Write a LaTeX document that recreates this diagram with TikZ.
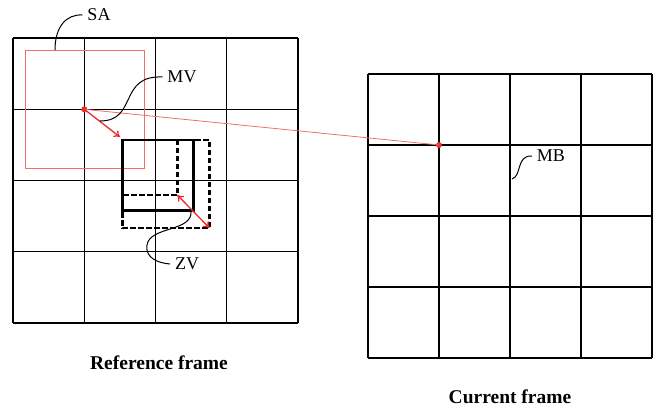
\documentclass[tikz,border=0pt]{standalone}
\usepackage{fontspec}
\setmainfont{Liberation Serif}
\usetikzlibrary{arrows.meta}
\definecolor{mvred}{RGB}{235,45,40}
\definecolor{lightred}{RGB}{240,110,105}
\tikzset{
  gridline/.style={line width=1.1pt, black},
  blockline/.style={line width=2.8pt, black},
  dashblock/.style={line width=2.8pt, black, dash pattern=on 5.5pt off 2.5pt},
  leader/.style={line width=1pt, black},
  lbl/.style={font=\fontsize{18}{20}\selectfont, inner sep=0pt, outer sep=5pt},
  caption/.style={font=\fontsize{19.5}{22}\selectfont\bfseries, inner sep=1pt},
  vec/.style={mvred, line width=1.3pt},
  reddot/.style={circle, fill=mvred, inner sep=0pt, minimum size=6pt},
}
\begin{document}
\begin{tikzpicture}[x=1pt,y=-1pt]
\useasboundingbox (0,0) rectangle (657,408);
% left grid (reference frame)
\foreach \i in {0,...,4}{
  \draw[gridline] ({13+71.25*\i},38) -- ({13+71.25*\i},323);
  \draw[gridline] (13,{38+71.25*\i}) -- (298,{38+71.25*\i});
}
% right grid (current frame)
\foreach \i in {0,...,4}{
  \draw[gridline] ({368+71*\i},74) -- ({368+71*\i},358);
  \draw[gridline] (368,{74+71*\i}) -- (652,{74+71*\i});
}
% search area
\draw[lightred, line width=0.9pt] (25,50) rectangle (144,168);
% reference blocks
\draw[dashblock] (122.3,140) rectangle (177.3,195);
\draw[dashblock] (122.3,140) rectangle (209.5,228);
\draw[blockline] (122.3,140) rectangle (193.3,210.8);
% current block
\draw[blockline] (439,145) rectangle (510,216);
% points
\coordinate (mvtip) at (120,137);
\coordinate (zva) at (177.3,195);
\coordinate (zvb) at (209.5,228);
\node[reddot] (p1) at (84.3,109.3) {};
\node[reddot] (p2) at (439,145) {};
\draw[lightred, line width=0.8pt] (p1.center) -- (p2.center);
\draw[vec, -{To[length=6pt,width=8pt]}] (p1.center) -- (mvtip);
\draw[vec, {To[length=6pt,width=8pt]}-{To[length=6pt,width=8pt]}] (zva) -- (zvb);
% labels
\node[lbl] (sa) at (99,15) {SA};
\node[lbl] (mv) at (182,77) {MV};
\node[lbl] (mb) at (551,156) {MB};
\node[lbl] (zv) at (187,264) {ZV};
\coordinate (saf) at (55,50);
\coordinate (mvf) at (100,121);
\coordinate (mbf) at (512,179);
\coordinate (zvf) at (191,211);
\draw[leader] (saf) .. controls (55,27) and (66,14) .. (sa.west);
\draw[leader] (mvf) .. controls (138,121) and (118,75) .. (mv.west);
\draw[leader] (mbf) .. controls (522,176) and (516,155) .. (mb.west);
\draw[leader] (zvf) .. controls (193,232) and (150,226) .. (147,245)
  .. controls (145,258) and (158,263) .. (zv.west);
% captions
\node[caption] (cref) at (159,363) {Reference frame};
\node[caption] (ccur) at (510,397) {Current frame};
\end{tikzpicture}
\end{document}
